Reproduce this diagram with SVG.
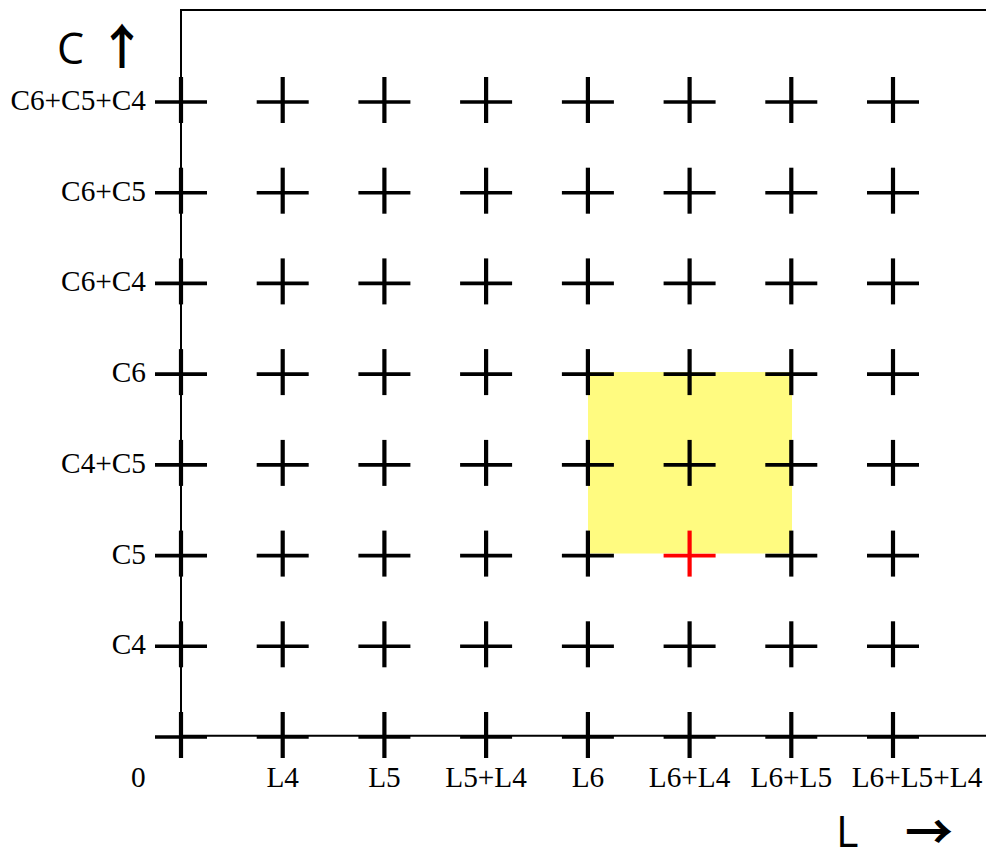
<svg xmlns="http://www.w3.org/2000/svg" xmlns:xlink="http://www.w3.org/1999/xlink" width="986" height="853" viewBox="0 0 986 853">
<style>
.axis{stroke:#000;stroke-width:2;fill:none}
.blk{color:#000}
.red{color:#ff0000}
.lbl{font-family:"Liberation Serif","Times New Roman",serif;font-size:29.3px;fill:#000}
.ylbl{text-anchor:end}
.xlbl{text-anchor:middle}
.big{font-family:"Open Sans","DejaVu Sans",sans-serif;font-size:43px;fill:#000}
.arr{font-family:"Noto Sans CJK JP","DejaVu Sans",sans-serif;fill:#000;font-weight:bold}
</style>
<defs>
<g id="cross">
<line x1="-26" y1="0" x2="26" y2="0" stroke="currentColor" stroke-width="3.6"/>
<line x1="0" y1="-25" x2="0" y2="21" stroke="currentColor" stroke-width="4.2"/>
</g>
</defs>
<rect id="highlight" x="588" y="372" width="204" height="181.5" fill="#fffb80"/>
<g id="axes">
<line class="axis" x1="181" y1="10" x2="986" y2="10"/>
<line class="axis" x1="181" y1="9" x2="181" y2="737"/>
<line class="axis" x1="181" y1="735.7" x2="986" y2="735.7"/>
</g>
<g id="grid" class="blk">
<g id="r0"><use xlink:href="#cross" x="181" y="102"/><use xlink:href="#cross" x="282.7" y="102"/><use xlink:href="#cross" x="384.4" y="102"/><use xlink:href="#cross" x="486.1" y="102"/><use xlink:href="#cross" x="587.9" y="102"/><use xlink:href="#cross" x="689.6" y="102"/><use xlink:href="#cross" x="791.3" y="102"/><use xlink:href="#cross" x="893" y="102"/></g>
<g id="r1"><use xlink:href="#cross" x="181" y="192.7"/><use xlink:href="#cross" x="282.7" y="192.7"/><use xlink:href="#cross" x="384.4" y="192.7"/><use xlink:href="#cross" x="486.1" y="192.7"/><use xlink:href="#cross" x="587.9" y="192.7"/><use xlink:href="#cross" x="689.6" y="192.7"/><use xlink:href="#cross" x="791.3" y="192.7"/><use xlink:href="#cross" x="893" y="192.7"/></g>
<g id="r2"><use xlink:href="#cross" x="181" y="283.4"/><use xlink:href="#cross" x="282.7" y="283.4"/><use xlink:href="#cross" x="384.4" y="283.4"/><use xlink:href="#cross" x="486.1" y="283.4"/><use xlink:href="#cross" x="587.9" y="283.4"/><use xlink:href="#cross" x="689.6" y="283.4"/><use xlink:href="#cross" x="791.3" y="283.4"/><use xlink:href="#cross" x="893" y="283.4"/></g>
<g id="r3"><use xlink:href="#cross" x="181" y="374.1"/><use xlink:href="#cross" x="282.7" y="374.1"/><use xlink:href="#cross" x="384.4" y="374.1"/><use xlink:href="#cross" x="486.1" y="374.1"/><use xlink:href="#cross" x="587.9" y="374.1"/><use xlink:href="#cross" x="689.6" y="374.1"/><use xlink:href="#cross" x="791.3" y="374.1"/><use xlink:href="#cross" x="893" y="374.1"/></g>
<g id="r4"><use xlink:href="#cross" x="181" y="464.9"/><use xlink:href="#cross" x="282.7" y="464.9"/><use xlink:href="#cross" x="384.4" y="464.9"/><use xlink:href="#cross" x="486.1" y="464.9"/><use xlink:href="#cross" x="587.9" y="464.9"/><use xlink:href="#cross" x="689.6" y="464.9"/><use xlink:href="#cross" x="791.3" y="464.9"/><use xlink:href="#cross" x="893" y="464.9"/></g>
<g id="r5"><use xlink:href="#cross" x="181" y="555.6"/><use xlink:href="#cross" x="282.7" y="555.6"/><use xlink:href="#cross" x="384.4" y="555.6"/><use xlink:href="#cross" x="486.1" y="555.6"/><use xlink:href="#cross" x="587.9" y="555.6"/><use xlink:href="#cross" x="791.3" y="555.6"/><use xlink:href="#cross" x="893" y="555.6"/></g>
<g id="r6"><use xlink:href="#cross" x="181" y="646.3"/><use xlink:href="#cross" x="282.7" y="646.3"/><use xlink:href="#cross" x="384.4" y="646.3"/><use xlink:href="#cross" x="486.1" y="646.3"/><use xlink:href="#cross" x="587.9" y="646.3"/><use xlink:href="#cross" x="689.6" y="646.3"/><use xlink:href="#cross" x="791.3" y="646.3"/><use xlink:href="#cross" x="893" y="646.3"/></g>
<g id="r7"><use xlink:href="#cross" x="181" y="737"/><use xlink:href="#cross" x="282.7" y="737"/><use xlink:href="#cross" x="384.4" y="737"/><use xlink:href="#cross" x="486.1" y="737"/><use xlink:href="#cross" x="587.9" y="737"/><use xlink:href="#cross" x="689.6" y="737"/><use xlink:href="#cross" x="791.3" y="737"/><use xlink:href="#cross" x="893" y="737"/></g>
</g>
<g id="selected" class="red"><use xlink:href="#cross" x="689.6" y="555.6"/></g>
<g id="ylabels" class="lbl ylbl">
<text x="146" y="110">C6+C5+C4</text>
<text x="146" y="200.7">C6+C5</text>
<text x="146" y="291.4">C6+C4</text>
<text x="146" y="382.1">C6</text>
<text x="146" y="472.9">C4+C5</text>
<text x="146" y="563.6">C5</text>
<text x="146" y="654.3">C4</text>
</g>
<g id="xlabels" class="lbl xlbl">
<text x="138.4" y="787">0</text>
<text x="282.7" y="787">L4</text>
<text x="384.4" y="787">L5</text>
<text x="486.1" y="787">L5+L4</text>
<text x="587.9" y="787">L6</text>
<text x="689.6" y="787">L6+L4</text>
<text x="791.3" y="787">L6+L5</text>
<text x="917" y="787">L6+L5+L4</text>
</g>
<g id="ytitle"><text class="big" x="57" y="64">C<tspan class="arr" x="98" y="64" font-size="48">↑</tspan></text></g>
<g id="xtitle"><text class="big" x="836" y="847">L<tspan class="arr" x="905" y="849" font-size="48">→</tspan></text></g>
</svg>
